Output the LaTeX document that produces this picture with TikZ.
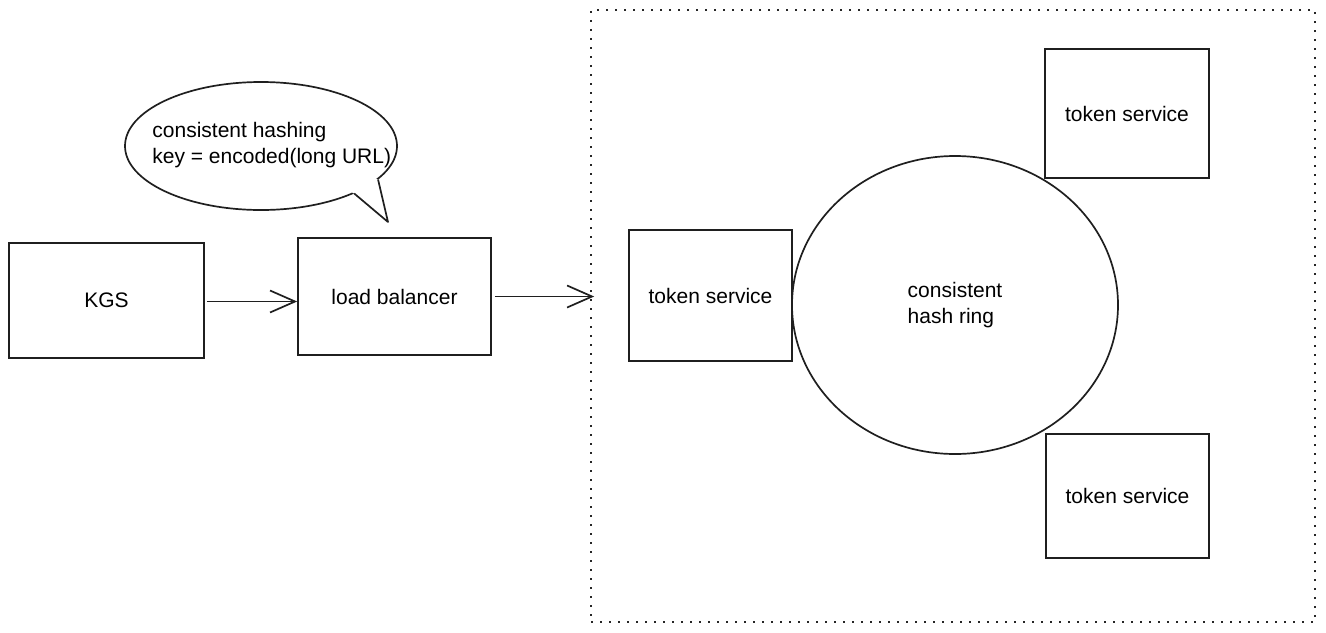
\documentclass[tikz,border=0pt]{standalone}
\usepackage{fontspec}
\setmainfont{Liberation Sans}
\usetikzlibrary{arrows.meta,shapes.geometric}
\tikzset{
  ink/.style={draw=black!88, line width=0.85pt},
  box/.style={ink, rectangle, inner sep=0pt, font=\fontsize{10.5}{12.5}\selectfont},
  lbl/.style={inner sep=0pt, font=\fontsize{10.5}{12.8}\selectfont, align=left},
  arr/.style={ink, -{Straight Barb[length=12.5pt,width=11pt,line width=0.85pt]}},
  cluster/.style={draw=black!85, line width=0.8pt, dash pattern=on 0.9pt off 3.6pt, rectangle, inner sep=0pt},
}
\begin{document}
\begin{tikzpicture}[x=0.5pt,y=-0.5pt]
\useasboundingbox (0,0) rectangle (1326,632);
% dotted container
\node[cluster, minimum width=362pt, minimum height=306pt] (frame) at (953,316) {};
% left part
\node[box, minimum width=97.5pt, minimum height=57.5pt] (kgs) at (106.5,300.5) {KGS};
\node[box, minimum width=96.5pt, minimum height=58.5pt] (lb) at (394.5,296.5) {load balancer};
% speech bubble
\node[ellipse, ink, minimum width=136pt, minimum height=64pt, inner sep=0pt] (bubble) at (261,146) {};
\coordinate (tailtip) at (388,222);
\fill[white] (bubble.center) -- (bubble.-27) -- (tailtip) -- (bubble.-16) -- cycle;
\draw[ink, line join=round] (bubble.-27) -- (tailtip) -- (bubble.-16);
\node[lbl, anchor=west] (bubbletext) at (152,145) {consistent hashing\\key = encoded(long URL)};
% arrows
\draw[arr, shorten <=1pt] ([yshift=-0.5pt]kgs.east) -- ([yshift=-0.5pt]kgs.east -| lb.west);
\coordinate (tip) at (lb.east -| frame.west);
\draw[arr, shorten <=1.5pt] (lb.east) -- ([xshift=2pt]tip);
% ring and token services
\node[ellipse, ink, minimum width=163pt, minimum height=149pt, inner sep=0pt, lbl] (ring) at (955,305) {consistent\\hash ring};
\node[box, minimum width=81.5pt, minimum height=65.5pt] (ts1) at (710.5,295.5) {token service};
\node[box, minimum width=82pt, minimum height=64.5pt] (ts2) at (1127,113.5) {token service};
\node[box, minimum width=81.5pt, minimum height=62pt] (ts3) at (1127.5,496) {token service};
\end{tikzpicture}
\end{document}
